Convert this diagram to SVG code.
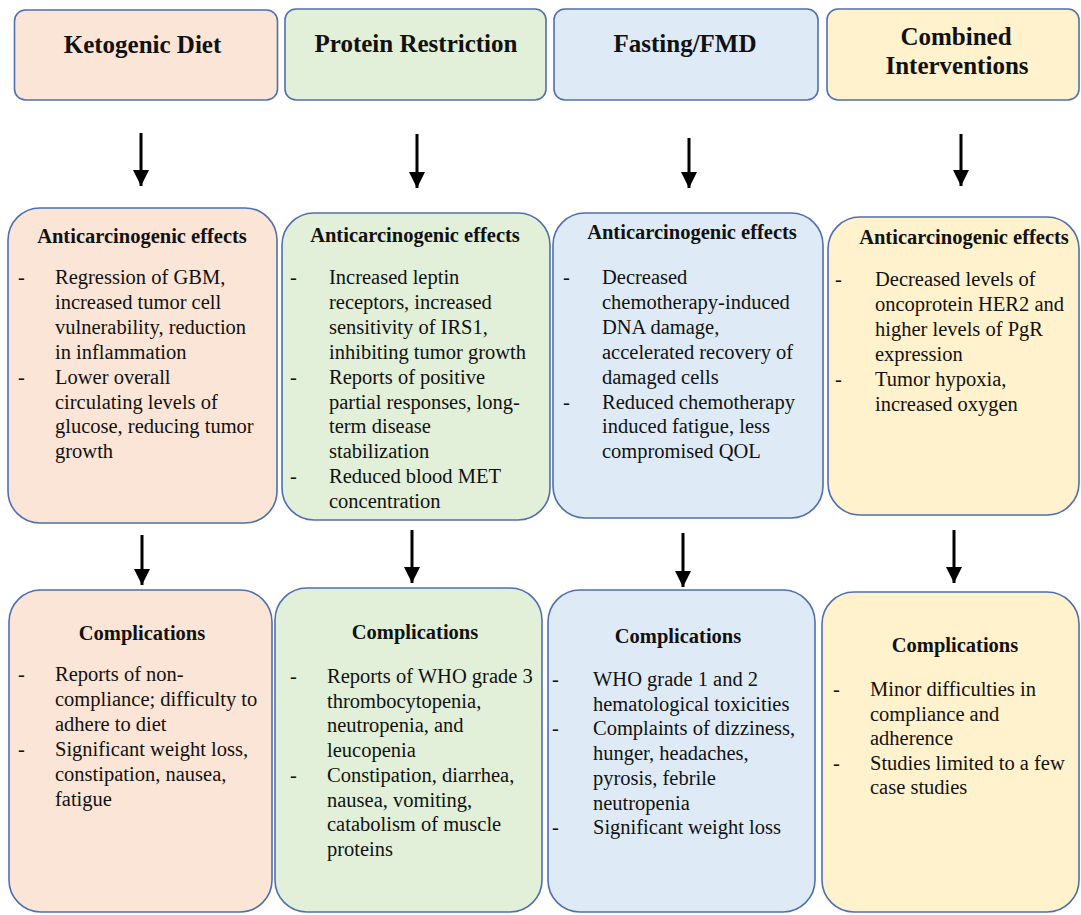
<svg xmlns="http://www.w3.org/2000/svg" width="1081" height="915" viewBox="0 0 1081 915">
<style>
.box{stroke:#4F6FAE;stroke-width:1.6}
.keto{fill:#FBE5D6}
.prot{fill:#E2F0D9}
.fast{fill:#DEEBF7}
.comb{fill:#FFF2CC}
text{font-family:"Liberation Serif","Times New Roman",serif;fill:#111}
.title{font-size:25px;font-weight:bold;text-anchor:middle}
.head{font-size:20.5px;font-weight:bold;text-anchor:middle}
.body{font-size:20.5px}
.arrow{stroke:#000;stroke-width:3;fill:none;marker-end:url(#ah)}
</style>
<defs>
<marker id="ah" markerUnits="userSpaceOnUse" markerWidth="18" markerHeight="18" viewBox="0 0 18 18" refX="16" refY="9" orient="auto">
<path d="M0,1 L16,9 L0,17 Z" fill="#000"/>
</marker>
</defs>
<rect width="1081" height="915" fill="#fff"/>

<g id="connectors">
<line class="arrow" x1="141" y1="133" x2="141" y2="186"/>
<line class="arrow" x1="417" y1="134" x2="417" y2="188"/>
<line class="arrow" x1="689" y1="138" x2="689" y2="188"/>
<line class="arrow" x1="961" y1="134" x2="961" y2="186"/>
<line class="arrow" x1="142" y1="535" x2="142" y2="585"/>
<line class="arrow" x1="412" y1="530" x2="412" y2="583"/>
<line class="arrow" x1="683" y1="533" x2="683" y2="587"/>
<line class="arrow" x1="954" y1="530" x2="954" y2="583"/>
</g>

<g id="keto-top">
<rect class="box keto" x="14.5" y="10" width="263" height="90" rx="11"/>
<text class="title" x="142.5" y="53">Ketogenic Diet</text>
</g>
<g id="protein-top">
<rect class="box prot" x="285" y="9" width="261" height="91" rx="11"/>
<text class="title" x="416" y="52">Protein Restriction</text>
</g>
<g id="fasting-top">
<rect class="box fast" x="554" y="9" width="264" height="91" rx="11"/>
<text class="title" x="685" y="52">Fasting/FMD</text>
</g>
<g id="combined-top">
<rect class="box comb" x="827" y="9" width="252" height="91" rx="11"/>
<text class="title" x="956" y="45">Combined</text>
<text class="title" x="957" y="74">Interventions</text>
</g>

<g id="keto-effects">
<rect class="box keto" x="8" y="208" width="269" height="315" rx="32"/>
<text class="head" x="142" y="243">Anticarcinogenic effects</text>
<text class="body">
<tspan x="18" y="284">-</tspan><tspan x="55" y="284">Regression of GBM,</tspan>
<tspan x="55" y="308.9">increased tumor cell</tspan>
<tspan x="55" y="333.8">vulnerability, reduction</tspan>
<tspan x="55" y="358.7">in inflammation</tspan>
<tspan x="18" y="383.6">-</tspan><tspan x="55" y="383.6">Lower overall</tspan>
<tspan x="55" y="408.5">circulating levels of</tspan>
<tspan x="55" y="433.4">glucose, reducing tumor</tspan>
<tspan x="55" y="458.3">growth</tspan>
</text>
</g>

<g id="protein-effects">
<rect class="box prot" x="282" y="213" width="268" height="307" rx="32"/>
<text class="head" x="415" y="242">Anticarcinogenic effects</text>
<text class="body">
<tspan x="290" y="284">-</tspan><tspan x="329" y="284">Increased leptin</tspan>
<tspan x="329" y="308.9">receptors, increased</tspan>
<tspan x="329" y="333.8">sensitivity of IRS1,</tspan>
<tspan x="329" y="358.7">inhibiting tumor growth</tspan>
<tspan x="290" y="383.6">-</tspan><tspan x="329" y="383.6">Reports of positive</tspan>
<tspan x="329" y="408.5">partial responses, long-</tspan>
<tspan x="329" y="433.4">term disease</tspan>
<tspan x="329" y="458.3">stabilization</tspan>
<tspan x="290" y="483.2">-</tspan><tspan x="329" y="483.2">Reduced blood MET</tspan>
<tspan x="329" y="508.1">concentration</tspan>
</text>
</g>

<g id="fasting-effects">
<rect class="box fast" x="553" y="213" width="270" height="305" rx="32"/>
<text class="head" x="692" y="239">Anticarcinogenic effects</text>
<text class="body">
<tspan x="563" y="284">-</tspan><tspan x="602" y="284">Decreased</tspan>
<tspan x="602" y="308.9">chemotherapy-induced</tspan>
<tspan x="602" y="333.8">DNA damage,</tspan>
<tspan x="602" y="358.7">accelerated recovery of</tspan>
<tspan x="602" y="383.6">damaged cells</tspan>
<tspan x="563" y="408.5">-</tspan><tspan x="602" y="408.5">Reduced chemotherapy</tspan>
<tspan x="602" y="433.4">induced fatigue, less</tspan>
<tspan x="602" y="458.3">compromised QOL</tspan>
</text>
</g>

<g id="combined-effects">
<rect class="box comb" x="828" y="217" width="251" height="298" rx="32"/>
<text class="head" x="964" y="244">Anticarcinogenic effects</text>
<text class="body">
<tspan x="835" y="286">-</tspan><tspan x="875" y="286">Decreased levels of</tspan>
<tspan x="875" y="310.9">oncoprotein HER2 and</tspan>
<tspan x="875" y="335.8">higher levels of PgR</tspan>
<tspan x="875" y="360.7">expression</tspan>
<tspan x="835" y="385.6">-</tspan><tspan x="875" y="385.6">Tumor hypoxia,</tspan>
<tspan x="875" y="410.5">increased oxygen</tspan>
</text>
</g>

<g id="keto-complications">
<rect class="box keto" x="9" y="590" width="263" height="322" rx="32"/>
<text class="head" x="142" y="640">Complications</text>
<text class="body">
<tspan x="18" y="681">-</tspan><tspan x="55" y="681">Reports of non-</tspan>
<tspan x="55" y="705.9">compliance; difficulty to</tspan>
<tspan x="55" y="730.8">adhere to diet</tspan>
<tspan x="18" y="755.7">-</tspan><tspan x="55" y="755.7">Significant weight loss,</tspan>
<tspan x="55" y="780.6">constipation, nausea,</tspan>
<tspan x="55" y="805.5">fatigue</tspan>
</text>
</g>

<g id="protein-complications">
<rect class="box prot" x="275" y="588" width="267" height="324" rx="32"/>
<text class="head" x="415" y="639">Complications</text>
<text class="body">
<tspan x="290" y="683">-</tspan><tspan x="327" y="683">Reports of WHO grade 3</tspan>
<tspan x="327" y="707.7">thrombocytopenia,</tspan>
<tspan x="327" y="732.4">neutropenia, and</tspan>
<tspan x="327" y="757.1">leucopenia</tspan>
<tspan x="290" y="781.8">-</tspan><tspan x="327" y="781.8">Constipation, diarrhea,</tspan>
<tspan x="327" y="806.5">nausea, vomiting,</tspan>
<tspan x="327" y="831.2">catabolism of muscle</tspan>
<tspan x="327" y="855.9">proteins</tspan>
</text>
</g>

<g id="fasting-complications">
<rect class="box fast" x="548" y="590" width="267" height="322" rx="32"/>
<text class="head" x="678" y="643">Complications</text>
<text class="body">
<tspan x="552" y="686">-</tspan><tspan x="593" y="686">WHO grade 1 and 2</tspan>
<tspan x="593" y="710.7">hematological toxicities</tspan>
<tspan x="552" y="735.4">-</tspan><tspan x="593" y="735.4">Complaints of dizziness,</tspan>
<tspan x="593" y="760.1">hunger, headaches,</tspan>
<tspan x="593" y="784.8">pyrosis, febrile</tspan>
<tspan x="593" y="809.5">neutropenia</tspan>
<tspan x="552" y="834.2">-</tspan><tspan x="593" y="834.2">Significant weight loss</tspan>
</text>
</g>

<g id="combined-complications">
<rect class="box comb" x="822" y="592" width="257" height="320" rx="32"/>
<text class="head" x="955" y="652">Complications</text>
<text class="body">
<tspan x="833" y="696">-</tspan><tspan x="870" y="696">Minor difficulties in</tspan>
<tspan x="870" y="720.5">compliance and</tspan>
<tspan x="870" y="745">adherence</tspan>
<tspan x="833" y="769.5">-</tspan><tspan x="870" y="769.5">Studies limited to a few</tspan>
<tspan x="870" y="794">case studies</tspan>
</text>
</g>
</svg>
